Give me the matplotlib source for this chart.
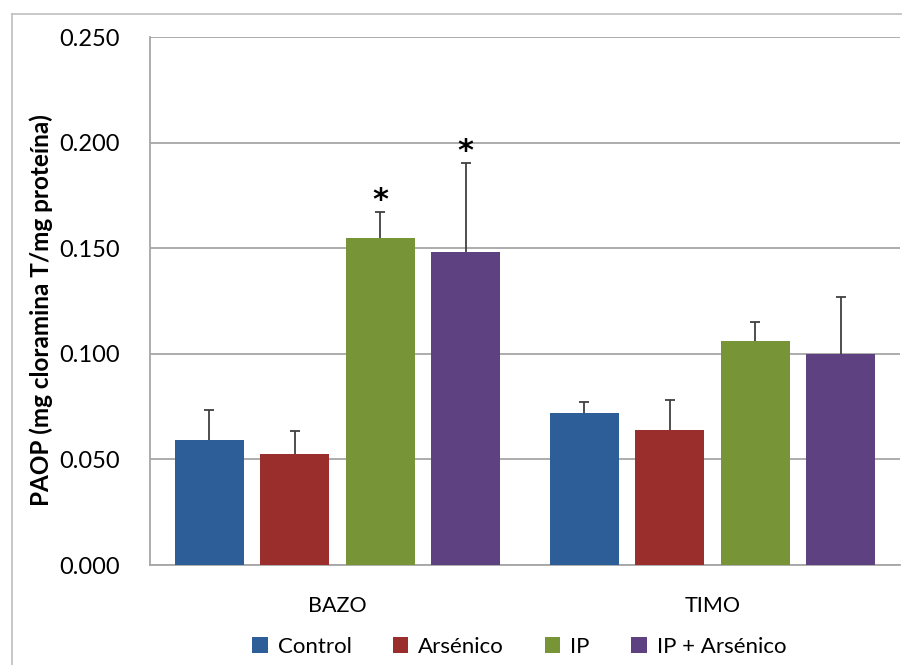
import numpy as np
import matplotlib.pyplot as plt
from matplotlib.lines import Line2D

plt.rcParams['font.family'] = ['Lato', 'DejaVu Sans']

# datos
organos = ['BAZO', 'TIMO']
grupos = ['Control', 'Arsénico', 'IP', 'IP + Arsénico']
medias = {
    'Control': [0.059, 0.072],
    'Arsénico': [0.0525, 0.064],
    'IP': [0.155, 0.106],
    'IP + Arsénico': [0.148, 0.100],
}
errores = {
    'Control': [0.0143, 0.0053],
    'Arsénico': [0.0110, 0.0143],
    'IP': [0.0123, 0.0089],
    'IP + Arsénico': [0.0425, 0.0268],
}
signif = {'IP': [True, False], 'IP + Arsénico': [True, False]}
colores = ['#2D5E97', '#9A2E2D', '#779536', '#5E4180']

fig = plt.figure(figsize=(9.03, 6.65), dpi=100)
W, H = 903, 665
ax = fig.add_axes([150 / W, (H - 565) / H, 750 / W, 528 / H])

# marco exterior (recortado a la derecha y abajo)
fig.add_artist(Line2D([12 / W, 12 / W], [0, (H - 14) / H], color='#BFBFBF', lw=1.2))
fig.add_artist(Line2D([12 / W, 1.0], [(H - 14) / H, (H - 14) / H], color='#BFBFBF', lw=1.2))

x = np.arange(len(organos))
paso = 0.228
ancho = 0.185
for i, (g, c) in enumerate(zip(grupos, colores)):
    pos = x + (i - 1.5) * paso
    m = np.array(medias[g])
    e = np.array(errores[g])
    ax.bar(pos, m, width=ancho, color=c, zorder=3, label=g)
    # solo la barra de error superior, sin tope abajo
    ax.vlines(pos, m, m + e, color='#404040', lw=1.3, zorder=4)
    ax.plot(pos, m + e, ls='none', marker='_', ms=7, mew=1.3, color='#404040', zorder=4)
    if g in signif:
        for p, mm, ee, s in zip(pos, m, e, signif[g]):
            if s:
                ax.text(p, mm + ee + 0.0052, '*', ha='center', va='center',
                        fontsize=22, fontweight='bold', family='DejaVu Sans')

ax.set_xlim(-0.5, 1.5)
ax.set_ylim(0, 0.25)
ax.set_yticks(np.arange(0, 0.251, 0.05))
ax.set_yticklabels([f'{v:.3f}' for v in np.arange(0, 0.251, 0.05)])
ax.set_xticks(x)
ax.set_xticklabels(organos)
ax.tick_params(axis='y', length=0, pad=22, labelsize=17)
ax.tick_params(axis='x', length=0, pad=22, labelsize=15.5)
ax.yaxis.grid(True, color='#A6A6A6', lw=1.3, zorder=0)
for s in ['top', 'right']:
    ax.spines[s].set_visible(False)
ax.spines['left'].set_color('#A6A6A6')
ax.spines['bottom'].set_color('#A6A6A6')
ax.spines['left'].set_linewidth(1.3)
ax.spines['bottom'].set_linewidth(1.3)

ax.set_ylabel('PAOP (mg cloramina T/mg proteína)', fontsize=17.5, fontweight='bold')
ax.yaxis.set_label_coords(-(150 - 53) / 750, 0.483)

ax.legend(loc='center', bbox_to_anchor=(519 / W, (H - 647) / H),
          bbox_transform=fig.transFigure, ncol=4, frameon=False, fontsize=16,
          handlelength=0.7, handleheight=0.7, handletextpad=0.45, columnspacing=1.85)

fig.savefig('out.png', dpi=100)
